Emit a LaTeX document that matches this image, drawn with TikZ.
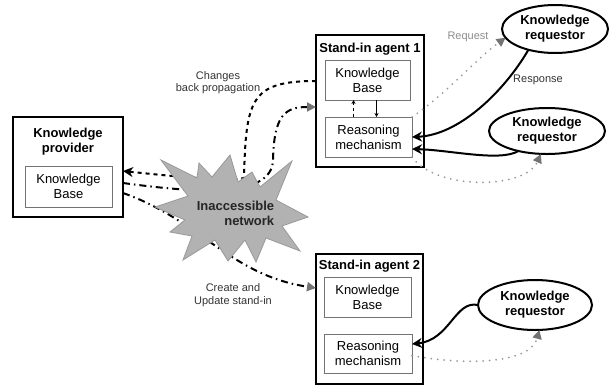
\documentclass[tikz,border=0pt]{standalone}
\usepackage{fontspec}
\setmainfont{Liberation Sans}
\usetikzlibrary{arrows.meta,calc,shapes.geometric}
\begin{document}
\begin{tikzpicture}[x=1pt,y=-1pt,
  box/.style={draw=black, line width=2pt, inner sep=0pt, outer sep=0pt},
  inbox/.style={draw=black!55, line width=1pt, inner sep=0pt, outer sep=0pt, align=center, font=\fontsize{13}{15}\selectfont},
  ttl/.style={font=\bfseries\fontsize{13}{15}\selectfont, align=center, inner sep=0pt},
  req/.style={ellipse, draw=black, line width=2pt, inner sep=0pt, outer sep=0pt, font=\bfseries\fontsize{13}{15}\selectfont, align=center},
  lbl/.style={font=\fontsize{11}{12.5}\selectfont, align=center, text=black!80, inner sep=0pt},
  dashline/.style={line width=2pt, dash pattern=on 4pt off 4pt},
  dotline/.style={line width=2pt, draw=black!40, line cap=round, dash pattern=on 0pt off 6.5pt},
  dashdot/.style={line width=2pt, dash pattern=on 7pt off 4pt on 1.5pt off 4pt},
  grayhead/.style={-{Triangle[width=9pt,length=9pt,color=black!55]}},
  blackhead/.style={-{Stealth[width=10pt,length=10pt]}},
  smallhead/.style={-{Stealth[width=4pt,length=4pt]}}
]
\useasboundingbox (0,0) rectangle (609,386);

% Knowledge provider
\node[box, minimum width=110pt, minimum height=100pt] (prov) at (68,167) {};
\node[ttl] (provt) at (68,141.5) {Knowledge\\provider};
\node[inbox, minimum width=87pt, minimum height=41pt] (provKB) at (68.5,186.5) {Knowledge\\Base};

% Stand-in agent 1
\node[box, minimum width=108pt, minimum height=132pt] (ag1) at (370,101) {};
\node[ttl] (ag1t) at (370,49) {Stand-in agent 1};
\node[inbox, minimum width=85pt, minimum height=40pt] (ag1KB) at (367.5,80) {Knowledge\\Base};
\node[inbox, minimum width=87pt, minimum height=40pt] (ag1RM) at (368.5,137) {Reasoning\\mechanism};

% Stand-in agent 2
\node[box, minimum width=107pt, minimum height=130pt] (ag2) at (369.5,318.5) {};
\node[ttl] (ag2t) at (369.5,266) {Stand-in agent 2};
\node[inbox, minimum width=87pt, minimum height=40pt] (ag2KB) at (367.5,297) {Knowledge\\Base};
\node[inbox, minimum width=88pt, minimum height=39pt] (ag2RM) at (368,353.5) {Reasoning\\mechanism};

% Knowledge requestors
\node[req, minimum width=106pt, minimum height=48pt] (req1) at (555,29) {Knowledge\\requestor};
\node[req, minimum width=116pt, minimum height=46pt] (req2) at (547,131) {Knowledge\\requestor};
\node[req, minimum width=114pt, minimum height=50pt] (req3) at (535,305) {Knowledge\\requestor};

% Connectors behind the network
\draw[dashline, blackhead] ([yshift=20pt]ag1.west) .. controls (250,81) and (246,100) .. (244,178)
  .. controls (230,182) and (170,176) .. ([yshift=-4pt]prov.east);
\draw[dashdot, grayhead] ([yshift=-16pt]prov.east) .. controls (190,192) and (272,200) .. (273,160)
  .. controls (274,115) and (285,107) .. ([yshift=-6pt]ag1.west);
\draw[dashdot, grayhead] ([yshift=-26pt]prov.east) .. controls (200,220) and (230,275) .. ([yshift=30.5pt]ag2.west);

% Inaccessible network
\filldraw[fill=black!30, draw=black!40, line width=0.8pt]
  (161,160) -- (197,178) -- (199,163) -- (212,177) -- (230,155) -- (238,182) -- (252,172)
  -- (260,187) -- (292,161) -- (276,200) -- (308,217) -- (282,226) -- (300,251) -- (266,238)
  -- (256,262) -- (245,240) -- (228,261) -- (215,240) -- (183,260) -- (192,236) -- (170,232)
  -- (185,220) -- (155,207) -- (188,196) -- cycle;
\node[ttl, align=right, text=black!85] (net) at (235.5,213) {Inaccessible\\network};

% Labels
\node[lbl] (lchg) at (218,82.5) {Changes\\back propagation};
\node[lbl] (lcre) at (233,295) {Create and\\Update stand-in};
\node[lbl, text=black!45] (lreq) at (468,37) {Request};
\node[lbl] (lres) at (538,80) {Response};

% Agent 1 internal
\draw[line width=0.8pt, dashed, smallhead] ([xshift=-15pt]ag1RM.north) -- ([xshift=-15pt]ag1RM.north |- ag1KB.south);
\draw[line width=0.8pt, smallhead] ([xshift=9pt]ag1KB.south) -- ([xshift=9pt]ag1KB.south |- ag1RM.north);

% Requestor connectors
\draw[dotline, grayhead] (ag1RM.north east) .. controls (445,95) and (475,60) .. (req1.190);
\draw[line width=2pt, blackhead] (req1.218) .. controls (505,90) and (460,135) .. (ag1RM.east);
\draw[line width=2pt, blackhead] (req2.215) .. controls (500,162) and (450,150) .. ([yshift=-12pt]ag1RM.east);
\draw[dotline, grayhead] (ag1RM.south east) .. controls (435,190) and (525,190) .. (req2.255);
\draw[line width=2pt, blackhead] (req3.west) .. controls (455,300) and (450,340) .. ([yshift=9.5pt]ag2RM.east);
\draw[dotline, grayhead] ([yshift=-2pt]ag2RM.east) .. controls (460,365) and (530,365) .. (req3.280);
\end{tikzpicture}
\end{document}
